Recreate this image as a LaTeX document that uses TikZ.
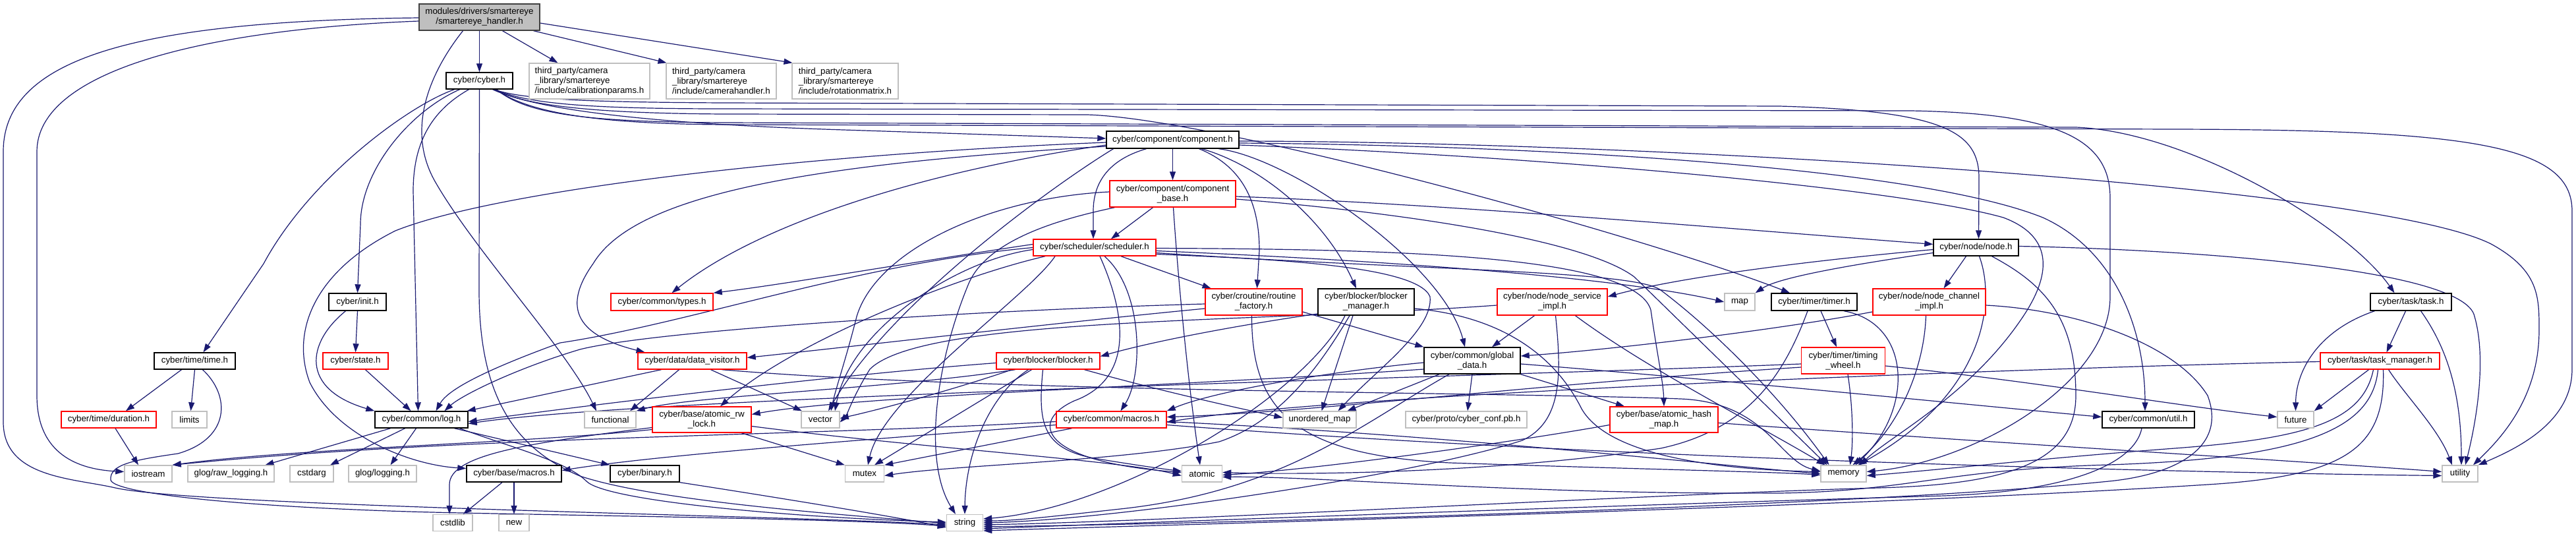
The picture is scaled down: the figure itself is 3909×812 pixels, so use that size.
\documentclass[tikz,border=0pt]{standalone}
\usepackage{fontspec}
\setmainfont{Liberation Sans}
\usetikzlibrary{arrows.meta}
\definecolor{edgec}{HTML}{191970}
\definecolor{extgray}{HTML}{BFBFBF}
\definecolor{maingray}{HTML}{404040}
\pgfdeclarelayer{bg}
\pgfsetlayers{bg,main}
\newcommand{\gvfont}{\fontsize{13.3}{15}\selectfont}
\begin{document}
\begin{tikzpicture}[x=1pt,y=-1pt,
  nb/.style={rectangle, inner sep=0pt, line width=1.4pt, fill=white, align=center, font=\gvfont},
  doc/.style={nb, draw=black},
  trunc/.style={nb, draw=red},
  ext/.style={nb, draw=extgray},
  mainbox/.style={nb, draw=maingray, fill=extgray},
  sz/.style 2 args={minimum width=#1, minimum height=#2},
  lnk/.style={draw=edgec, line width=1.2pt, -{Triangle[length=13pt,width=9pt]}}]
\useasboundingbox (0,0) rectangle (3909,812);
% ---------------- nodes ----------------
\node[mainbox, sz={183}{40}] (hmain) at (727.5,26) {modules/drivers/smartereye\\/smartereye\_handler.h};
\node[doc, sz={101}{25}] (cyber) at (727.5,122.5) {cyber/cyber.h};
\node[ext, sz={183}{54}, align=left] (calib) at (894.5,123) {third\_party/camera\\\_library/smartereye\\/include/calibrationparams.h};
\node[ext, sz={167}{54}, align=left] (camh) at (1094.5,123) {third\_party/camera\\\_library/smartereye\\/include/camerahandler.h};
\node[ext, sz={161}{54}, align=left] (rotm) at (1282.5,123) {third\_party/camera\\\_library/smartereye\\/include/rotationmatrix.h};
\node[doc, sz={201}{26}] (comp) at (1779.5,212) {cyber/component/component.h};
\node[trunc, sz={191}{40}] (cbase) at (1779.5,294) {cyber/component/component\\\_base.h};
\node[trunc, sz={186}{25}] (sched) at (1661,375.5) {cyber/scheduler/scheduler.h};
\node[doc, sz={129}{25}] (nodeh) at (2998.5,375.5) {cyber/node/node.h};
\node[doc, sz={87}{26}] (init) at (542.5,458) {cyber/init.h};
\node[trunc, sz={155}{26}] (types) at (1004.5,458) {cyber/common/types.h};
\node[trunc, sz={147}{40}] (routf) at (1902.5,458) {cyber/croutine/routine\\\_factory.h};
\node[doc, sz={146}{40}] (bmgr) at (2073,458) {cyber/blocker/blocker\\\_manager.h};
\node[trunc, sz={167}{40}] (nsrv) at (2355.5,458) {cyber/node/node\_service\\\_impl.h};
\node[ext, sz={46}{26}] (map) at (2640,458) {map};
\node[doc, sz={130}{26}] (timer) at (2753,458) {cyber/timer/timer.h};
\node[trunc, sz={171}{40}] (nchan) at (2927.5,458) {cyber/node/node\_channel\\\_impl.h};
\node[doc, sz={123}{26}] (task) at (3658.5,458) {cyber/task/task.h};
\node[doc, sz={123}{25}] (timeh) at (295.5,547.5) {cyber/time/time.h};
\node[trunc, sz={99}{25}] (state) at (539.5,547.5) {cyber/state.h};
\node[trunc, sz={165}{25}] (dvis) at (1050.5,547.5) {cyber/data/data\_visitor.h};
\node[trunc, sz={157}{25}] (blocker) at (1590.5,547.5) {cyber/blocker/blocker.h};
\node[doc, sz={146}{40}] (gdata) at (2234,547) {cyber/common/global\\\_data.h};
\node[trunc, sz={127}{40}] (twheel) at (2797,547) {cyber/timer/timing\\\_wheel.h};
\node[trunc, sz={181}{25}] (tmgr) at (3611.5,547.5) {cyber/task/task\_manager.h};
\node[trunc, sz={144}{25}] (dur) at (165,636.5) {cyber/time/duration.h};
\node[ext, sz={53}{25}] (limits) at (287.5,636.5) {limits};
\node[doc, sz={141}{25}] (logh) at (639.5,636.5) {cyber/common/log.h};
\node[ext, sz={78}{25}] (func) at (926,636.5) {functional};
\node[trunc, sz={150}{39}] (arw) at (1065,636.5) {cyber/base/atomic\_rw\\\_lock.h};
\node[ext, sz={58}{25}] (vec) at (1245,636.5) {vector};
\node[trunc, sz={167}{25}] (cmac) at (1686.5,636.5) {cyber/common/macros.h};
\node[ext, sz={111}{25}] (umap) at (2002.5,636.5) {unordered\_map};
\node[ext, sz={184}{25}] (conf) at (2225,636.5) {cyber/proto/cyber\_conf.pb.h};
\node[trunc, sz={164}{39}] (ahm) at (2525,636.5) {cyber/base/atomic\_hash\\\_map.h};
\node[doc, sz={140}{25}] (util) at (3260,636.5) {cyber/common/util.h};
\node[ext, sz={55}{25}] (fut) at (3483.5,636.5) {future};
\node[ext, sz={72}{25}] (ios) at (225,718.5) {iostream};
\node[ext, sz={131}{25}] (rawlog) at (350.5,718.5) {glog/raw\_logging.h};
\node[ext, sz={66}{25}] (cstdarg) at (473,718.5) {cstdarg};
\node[ext, sz={103}{25}] (glog) at (580.5,718.5) {glog/logging.h};
\node[doc, sz={144}{25}] (bmac) at (780,718.5) {cyber/base/macros.h};
\node[doc, sz={105}{25}] (binary) at (978.5,718.5) {cyber/binary.h};
\node[ext, sz={59}{25}] (mutex) at (1312,718.5) {mutex};
\node[ext, sz={61}{25}] (atomic) at (1824,718.5) {atomic};
\node[ext, sz={69}{25}] (memh) at (2797.5,718.5) {memory};
\node[ext, sz={54}{25}] (utilh) at (3733,718.5) {utility};
\node[ext, sz={60}{25}] (cstdlib) at (687,793) {cstdlib};
\node[ext, sz={46}{25}] (newh) at (780,793) {new};
\node[ext, sz={55}{25}] (strh) at (1464,793) {string};
% ---------------- edges ----------------
\begin{pgfonlayer}{bg}
\fill[white] (0,0) rectangle (3909,812);
% main
\draw[lnk] (hmain.south) -- (cyber.north);
\draw[lnk] ([xshift=35]hmain.south) -- ([xshift=-48]calib.north);
\draw[lnk] ([xshift=82]hmain.south) -- ([xshift=-83]camh.north);
\draw[lnk] ([yshift=-9]hmain.east) -- ([xshift=-80]rotm.north);
\draw[lnk] ([yshift=-6]hmain.west) .. controls (300,45) and (56,110) .. (56,230) -- (56,600) .. controls (56,690) and (120,712) .. ([yshift=3]ios.west);
\draw[lnk] ([yshift=-1]hmain.west) .. controls (200,32) and (5,90) .. (5,230) -- (5,640) .. controls (5,725) and (110,725) .. (175,740) .. controls (300,768) and (1200,782) .. ([yshift=-3]strh.west);
\draw[lnk] ([xshift=-25]hmain.south) .. controls (660,100) and (612,190) .. (660,275) .. controls (720,380) and (860,530) .. ([xshift=-21]func.north);
% cyber.h
\draw[lnk] ([xshift=-16]cyber.south) .. controls (660,165) and (627,210) .. (627,290) -- ([xshift=-5]logh.north);
\draw[lnk] ([xshift=-30]cyber.south) .. controls (620,170) and (547,260) .. (547,340) -- (init.north);
\draw[lnk] ([xshift=-38]cyber.south) .. controls (620,160) and (470,270) .. (400,400) -- ([xshift=13]timeh.north);
\draw[lnk] (cyber.south) -- (727,440) .. controls (727,600) and (780,680) .. (880,722) .. controls (1000,762) and (1300,782) .. ([yshift=-1]strh.west);
\draw[lnk] ([xshift=20]cyber.south) .. controls (790,155) and (900,185) .. (1280,197) -- ([yshift=2]comp.west);
\draw[lnk] ([xshift=22]cyber.south) .. controls (790,150) and (880,155) .. (1100,156) -- (2700,161) .. controls (2950,168) and (3003,200) .. (3003,270) -- ([xshift=4]nodeh.north);
\draw[lnk] ([xshift=23]cyber.south) .. controls (795,160) and (900,172) .. (1100,173) -- (1650,174) .. controls (1850,180) and (2500,360) .. ([xshift=-37]timer.north);
\draw[lnk] ([xshift=24]cyber.south) .. controls (800,158) and (900,165) .. (1100,165) -- (2900,168) .. controls (3120,172) and (3202,210) .. (3202,300) -- (3202,450) .. controls (3202,580) and (3000,700) .. ([yshift=3]memh.east);
\draw[lnk] ([xshift=25]cyber.south) .. controls (800,170) and (900,188) .. (1100,189) -- (3300,196) .. controls (3750,197) and (3903,220) .. (3903,320) -- (3903,560) .. controls (3903,640) and (3820,680) .. (utilh.north east);
\draw[lnk] ([xshift=26]cyber.south) .. controls (800,175) and (900,185) .. (1100,186) -- (3150,193) .. controls (3320,200) and (3560,340) .. ([xshift=-25]task.north);
% init, state, time, duration
\draw[lnk] (init.south) -- (state.north);
\draw[lnk] ([xshift=-18]init.south) .. controls (465,520) and (455,590) .. (logh.north west);
\draw[lnk] ([xshift=15]state.south) -- ([xshift=-16]logh.north);
\draw[lnk] ([xshift=-20]timeh.south) -- ([xshift=26]dur.north);
\draw[lnk] (timeh.south) -- ([xshift=2]limits.north);
\draw[lnk] ([xshift=12]timeh.south) .. controls (350,600) and (350,665) .. (270,688) .. controls (200,698) and (166,705) .. (168,728) .. controls (172,750) and (400,772) .. (700,778) .. controls (1000,784) and (1300,788) .. ([yshift=-5]strh.west);
\draw[lnk] ([xshift=10]dur.south) -- ([xshift=-15]ios.north);
% log.h, base/macros.h, binary.h
\draw[lnk] ([xshift=-47]logh.south) -- ([xshift=52]rawlog.north);
\draw[lnk] ([xshift=-25]logh.south) -- ([xshift=28]cstdarg.north);
\draw[lnk] ([xshift=-8]logh.south) -- ([xshift=12]glog.north);
\draw[lnk] ([xshift=50]logh.south) -- (binary.north west);
\draw[lnk] ([xshift=58]logh.south) .. controls (780,680) and (860,700) .. (890,730) .. controls (920,760) and (1200,785) .. ([yshift=1]strh.west);
\draw[lnk] ([xshift=-18]bmac.south) -- ([xshift=16]cstdlib.north);
\draw[lnk] (bmac.south) -- (newh.north);
\draw[lnk] (binary.south east) .. controls (1150,750) and (1350,782) .. ([yshift=-7]strh.west);
% component.h
\draw[lnk] (comp.south) -- (cbase.north);
\draw[lnk] ([xshift=-40]comp.south) .. controls (1690,240) and (1659,270) .. (1659,320) -- ([xshift=-2]sched.north);
\draw[lnk] ([xshift=40]comp.south) .. controls (1880,250) and (1911,300) .. (1911,380) -- ([xshift=5]routf.north);
\draw[lnk] ([xshift=44]comp.south) .. controls (1910,250) and (2010,330) .. ([xshift=-15]bmgr.north);
\draw[lnk] ([xshift=70]comp.south) .. controls (1960,240) and (2190,400) .. ([xshift=-11]gdata.north);
\draw[lnk] ([yshift=-8]comp.west) .. controls (1400,260) and (1150,340) .. ([xshift=15]types.north);
\draw[lnk] ([yshift=-10]comp.west) .. controls (1200,250) and (960,300) .. (900,400) .. controls (850,470) and (880,510) .. ([xshift=-72]dvis.north);
\draw[lnk] ([yshift=-4]comp.west) .. controls (1200,235) and (750,290) .. (600,350) .. controls (480,410) and (440,500) .. (470,580) .. controls (510,660) and (620,705) .. ([yshift=8]bmac.west);
\draw[lnk] ([yshift=-5]comp.east) .. controls (2300,220) and (2900,250) .. (3100,330) .. controls (3210,380) and (3255,500) .. ([xshift=-5]util.north);
\draw[lnk] ([yshift=-8]comp.east) .. controls (2400,240) and (2900,290) .. (3040,330) .. controls (3120,360) and (3110,420) .. (3070,480) .. controls (2990,600) and (2870,660) .. ([xshift=25]memh.north);
\draw[lnk] ([yshift=-2]comp.east) .. controls (2500,215) and (3600,280) .. (3780,370) .. controls (3853,410) and (3853,450) .. (3853,500) .. controls (3853,600) and (3800,660) .. ([xshift=20]utilh.north);
\draw[lnk] ([xshift=-90]comp.south) .. controls (1600,280) and (1350,460) .. ([xshift=12]vec.north);
% component_base.h
\draw[lnk] ([xshift=-30]cbase.south) -- ([xshift=25]sched.north);
\draw[lnk] ([yshift=-4]cbase.east) .. controls (2200,310) and (2600,345) .. ([yshift=5]nodeh.west);
\draw[lnk] ([xshift=1]cbase.south) .. controls (1786,400) and (1800,560) .. ([xshift=-3]atomic.north);
\draw[lnk] ([xshift=-88]cbase.south) .. controls (1620,330) and (1500,360) .. (1470,430) .. controls (1420,550) and (1400,700) .. ([xshift=-14]strh.north);
\draw[lnk] ([yshift=3]cbase.west) .. controls (1500,300) and (1330,380) .. (1300,480) .. controls (1285,540) and (1268,590) .. ([xshift=16]vec.north);
\draw[lnk] ([yshift=-8]cbase.east) .. controls (2100,320) and (2400,360) .. (2480,420) -- ([xshift=-25]memh.north);
% scheduler.h
\draw[lnk] ([yshift=5]sched.west) .. controls (1400,395) and (1200,430) .. (types.north east);
\draw[lnk] (sched.west) .. controls (1300,400) and (1050,490) .. (850,520) .. controls (740,560) and (680,590) .. ([xshift=22]logh.north);
\draw[lnk] ([xshift=-60]sched.south) .. controls (1560,450) and (1340,600) .. ([xshift=5]mutex.north);
\draw[lnk] ([xshift=-75]sched.south) .. controls (1450,420) and (1200,520) .. ([xshift=28]arw.north);
\draw[lnk] ([yshift=-3]sched.west) .. controls (1450,395) and (1290,500) .. ([xshift=22]vec.north);
\draw[lnk] ([xshift=15]sched.south) .. controls (1735,440) and (1735,570) .. ([xshift=14]cmac.north);
\draw[lnk] ([xshift=8]sched.south) .. controls (1710,480) and (1720,575) .. (1630,608) .. controls (1560,640) and (1580,700) .. ([yshift=2]atomic.west);
\draw[lnk] ([xshift=40]sched.south) -- ([xshift=-65]routf.north);
\draw[lnk] ([yshift=-1]sched.east) .. controls (2100,378) and (2480,385) .. (2505,470) .. controls (2515,540) and (2524,580) .. (ahm.north);
\draw[lnk] ([yshift=-5]sched.east) .. controls (2100,395) and (2450,420) .. (map.west);
\draw[lnk] ([yshift=-8]sched.east) .. controls (2150,410) and (2480,410) .. (2520,440) .. controls (2600,500) and (2700,600) .. ([xshift=-22]memh.north);
\draw[lnk] ([yshift=-10]sched.east) .. controls (1900,392) and (2150,400) .. (2170,450) .. controls (2175,500) and (2090,560) .. ([xshift=28]umap.north);
% routine_factory.h
\draw[lnk] ([yshift=-10]routf.west) .. controls (1600,490) and (1300,525) .. ([yshift=5]dvis.east);
\draw[lnk] ([yshift=-3]routf.west) .. controls (1500,470) and (1000,500) .. (880,530) .. controls (780,560) and (700,600) .. ([xshift=35]logh.north);
\draw[lnk] ([yshift=-15]routf.east) -- (gdata.north west);
\draw[lnk] ([xshift=-3]routf.south) .. controls (1899,620) and (1960,690) .. (2200,702) .. controls (2500,712) and (2700,716) .. ([yshift=-2]memh.west);
% blocker_manager.h
\draw[lnk] ([yshift=-18]bmgr.west) .. controls (1900,490) and (1760,515) .. ([yshift=7]blocker.east);
\draw[lnk] ([xshift=-20]bmgr.south) -- ([xshift=3]umap.north);
\draw[lnk] ([xshift=-25]bmgr.south) .. controls (2000,560) and (1940,640) .. (1850,670) .. controls (1700,700) and (1450,705) .. ([yshift=-3]mutex.east);
\draw[lnk] ([xshift=-32]bmgr.south) .. controls (1980,600) and (1700,770) .. ([yshift=6]strh.east);
\draw[lnk] ([yshift=-10]bmgr.east) .. controls (2280,480) and (2360,540) .. (2400,620) .. controls (2440,690) and (2600,712) .. ([yshift=3]memh.west);
% blocker.h
\draw[lnk] ([yshift=-3]blocker.west) .. controls (1250,570) and (850,620) .. ([yshift=-3]logh.east);
\draw[lnk] ([xshift=-50]blocker.south) .. controls (1350,590) and (1050,600) .. (func.north east);
\draw[lnk] ([xshift=-55]blocker.south) .. controls (1450,590) and (1340,620) .. ([yshift=2]vec.east);
\draw[lnk] ([xshift=-25]blocker.south) -- ([xshift=15]mutex.north);
\draw[lnk] ([xshift=-30]blocker.south) .. controls (1500,600) and (1465,690) .. (strh.north);
\draw[lnk] ([xshift=55]blocker.south) .. controls (1750,590) and (1860,615) .. ([yshift=3]umap.west);
\draw[lnk] ([xshift=-8]blocker.south) .. controls (1575,640) and (1580,680) .. (1660,695) .. controls (1720,705) and (1770,712) .. ([yshift=4]atomic.west);
% global_data.h
\draw[lnk] (gdata.south) -- ([xshift=2]conf.north);
\draw[lnk] (gdata.south east) -- ([xshift=-60]ahm.north);
\draw[lnk] ([xshift=-50]gdata.south) -- ([xshift=42]umap.north);
\draw[lnk] ([xshift=-35]gdata.south) .. controls (2070,640) and (1950,745) .. (1700,772) .. controls (1600,783) and (1540,790) .. ([yshift=3]strh.east);
\draw[lnk] ([yshift=-3]gdata.west) .. controls (2050,560) and (1850,590) .. (cmac.north east);
\draw[lnk] ([yshift=-13]gdata.west) .. controls (1800,585) and (1300,600) .. ([yshift=8]arw.east);
\draw[lnk] ([yshift=-5]gdata.east) .. controls (2600,575) and (3000,615) .. ([yshift=4]util.west);
% node_service_impl.h
\draw[lnk] ([xshift=-27]nsrv.south) -- ([xshift=30]gdata.north);
\draw[lnk] ([xshift=5]nsrv.south) .. controls (2370,570) and (2370,640) .. (2310,668) .. controls (2150,720) and (1700,788) .. (strh.east);
\draw[lnk] ([xshift=35]nsrv.south) .. controls (2500,560) and (2660,640) .. ([xshift=-28]memh.north);
\draw[lnk] ([yshift=-5]nsrv.west) .. controls (1900,490) and (1400,480) .. (1320,560) .. controls (1295,600) and (1285,630) .. ([yshift=-4]vec.east);
% node.h
\draw[lnk] ([yshift=-3]nodeh.west) .. controls (2750,395) and (2550,420) .. ([yshift=8]nsrv.east);
\draw[lnk] ([yshift=-8]nodeh.west) .. controls (2820,400) and (2700,420) .. (map.north east);
\draw[lnk] ([xshift=-15]nodeh.south) -- ([xshift=22]nchan.north);
\draw[lnk] ([xshift=5]nodeh.south) .. controls (3030,460) and (3010,600) .. ([xshift=22]memh.north);
\draw[lnk] ([xshift=24]nodeh.south) .. controls (3100,430) and (3150,480) .. (3150,600) .. controls (3150,700) and (3050,735) .. (2850,740) .. controls (2500,750) and (1800,790) .. ([yshift=-3]strh.east);
\draw[lnk] ([yshift=2]nodeh.east) .. controls (3300,378) and (3740,405) .. (3755,480) .. controls (3775,550) and (3755,650) .. ([xshift=8]utilh.north);
% node_channel_impl.h
\draw[lnk] ([yshift=-15]nchan.west) .. controls (2700,500) and (2450,530) .. ([yshift=7]gdata.east);
\draw[lnk] ([xshift=-5]nchan.south) .. controls (2920,560) and (2880,650) .. ([xshift=14]memh.north);
\draw[lnk] ([yshift=-5]nchan.east) .. controls (3150,470) and (3300,520) .. (3350,600) .. controls (3380,680) and (3300,720) .. (3200,730) .. controls (2800,770) and (1800,795) .. ([yshift=-6]strh.east);
% timer.h
\draw[lnk] ([xshift=10]timer.south) -- ([xshift=-10]twheel.north);
\draw[lnk] ([xshift=-10]timer.south) .. controls (2710,560) and (2660,650) .. (2520,680) .. controls (2250,720) and (1950,720) .. ([yshift=2]atomic.east);
\draw[lnk] ([xshift=45]timer.south) .. controls (2900,490) and (2905,620) .. ([xshift=18]memh.north);
% timing_wheel.h
\draw[lnk] ([xshift=7]twheel.south) .. controls (2812,620) and (2812,670) .. ([xshift=10]memh.north);
\draw[lnk] ([yshift=-5]twheel.west) .. controls (2300,570) and (1000,600) .. ([yshift=-6]logh.east);
\draw[lnk] ([yshift=-10]twheel.west) .. controls (2300,585) and (2000,625) .. ([yshift=4]cmac.east);
\draw[lnk] ([yshift=-8]twheel.east) .. controls (3100,580) and (3300,615) .. ([yshift=4]fut.west);
% atomic_hash_map.h
\draw[lnk] ([yshift=-8]ahm.west) .. controls (2300,670) and (2000,712) .. ([yshift=-2]atomic.east);
\draw[lnk] ([yshift=-5]ahm.east) .. controls (3000,670) and (3500,700) .. ([yshift=3]utilh.west);
% common/macros.h
\draw[lnk] ([yshift=-3]cmac.west) .. controls (1200,662) and (700,662) .. (ios.north east);
\draw[lnk] ([yshift=-8]cmac.west) .. controls (1300,668) and (1000,690) .. ([yshift=5]bmac.east);
\draw[lnk] ([xshift=-60]cmac.south) -- (mutex.north east);
\draw[lnk] ([yshift=-3]cmac.east) .. controls (2200,660) and (2600,705) .. (memh.west);
\draw[lnk] ([yshift=-8]cmac.east) .. controls (2500,700) and (3400,718) .. ([yshift=-3]utilh.west);
% atomic_rw_lock.h
\draw[lnk] ([yshift=-12]arw.west) .. controls (800,672) and (682,690) .. (682,735) -- ([xshift=-5]cstdlib.north);
\draw[lnk] ([xshift=60]arw.south) -- (mutex.north west);
\draw[lnk] ([yshift=-10]arw.east) .. controls (1400,680) and (1700,698) .. ([yshift=-3]atomic.west);
\draw[lnk] ([yshift=-15]arw.west) .. controls (800,672) and (450,680) .. (ios.north east);
% data_visitor.h
\draw[lnk] ([xshift=-47]dvis.south) -- ([xshift=-2]logh.north east);
\draw[lnk] ([xshift=-20]dvis.south) -- ([xshift=30]func.north);
\draw[lnk] ([xshift=28]dvis.south) -- ([xshift=-28]vec.north);
\draw[lnk] ([xshift=45]dvis.south) .. controls (1500,595) and (2300,595) .. (2550,605) .. controls (2680,610) and (2700,700) .. ([yshift=4]memh.west);
% util.h
\draw[lnk] ([xshift=-10]util.south) .. controls (3240,700) and (3150,745) .. (2950,752) .. controls (2500,765) and (1800,790) .. ([yshift=-9]strh.east);
% task.h
\draw[lnk] ([xshift=-8]task.south) -- ([xshift=10]tmgr.north);
\draw[lnk] ([xshift=-55]task.south) .. controls (3520,500) and (3484,560) .. (fut.north);
\draw[lnk] ([xshift=15]task.south) .. controls (3715,530) and (3735,600) .. ([xshift=2]utilh.north);
% task_manager.h
\draw[lnk] ([xshift=-17]tmgr.south) -- (fut.north east);
\draw[lnk] ([xshift=13]tmgr.south) .. controls (3650,600) and (3700,650) .. ([xshift=-12]utilh.north);
\draw[lnk] ([yshift=-1]tmgr.west) .. controls (3000,560) and (2000,600) .. ([yshift=-4]cmac.east);
\draw[lnk] ([xshift=-10]tmgr.south) .. controls (3585,640) and (3500,665) .. (3300,680) .. controls (3100,695) and (2950,712) .. ([yshift=-3]memh.east);
\draw[lnk] ([xshift=-3]tmgr.south) .. controls (3600,650) and (3500,695) .. (3200,705) .. controls (2950,712) and (2900,745) .. (2700,748) .. controls (2300,750) and (2000,722) .. ([yshift=-5]atomic.east);
\draw[lnk] ([xshift=5]tmgr.south) .. controls (3620,680) and (3560,722) .. (3350,735) .. controls (2800,770) and (1800,795) .. ([yshift=-12]strh.east);
\end{pgfonlayer}
\end{tikzpicture}
\end{document}
